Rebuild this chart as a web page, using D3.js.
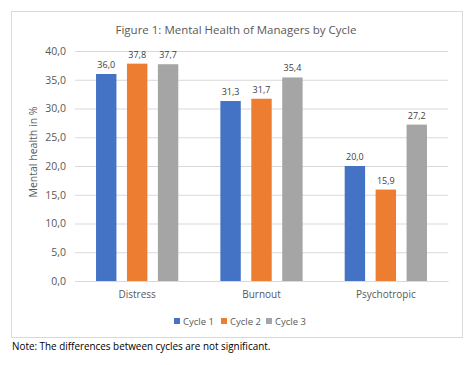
<!DOCTYPE html>
<html><head><meta charset="utf-8">
<script src="https://cdn.jsdelivr.net/npm/d3@7"></script>
<style>body{margin:0;background:#fff;} text{font-family:"Open Sans","Noto Sans",sans-serif;}</style>
</head><body>
<svg id="c" width="475" height="365"></svg>
<script>
const categories = ["Distress", "Burnout", "Psychotropic"];
const seriesNames = ["Cycle 1", "Cycle 2", "Cycle 3"];
const cycle1 = [36.0, 31.3, 20.0];
const cycle2 = [37.8, 31.7, 15.9];
const cycle3 = [37.7, 35.4, 27.2];
const yTicks = [0, 5, 10, 15, 20, 25, 30, 35, 40];
const colors = ["#4472C4", "#ED7D31", "#A5A5A5"];
const title = "Figure 1: Mental Health of Managers by Cycle";
const yTitle = "Mental health in %";
const note = "Note: The differences between cycles are not significant.";

const series = [cycle1, cycle2, cycle3];
const fmt = v => d3.format(".1f")(v).replace(".", ",");
const svg = d3.select("#c");
const FF = '"Open Sans","Noto Sans",sans-serif';

svg.append("rect").attr("x", 11.5).attr("y", 11.5).attr("width", 451).attr("height", 326)
  .attr("fill", "#fff").attr("stroke", "#D9D9D9");

const pLeft = 75, pRight = 448, pTop = 51, pBottom = 281;
const x = d3.scaleBand().domain(categories).range([pLeft, pRight]);
const xs = d3.scaleBand().domain(seriesNames).range([0, x.bandwidth()]).paddingInner(0.34).paddingOuter(0.68);
const y = d3.scaleLinear().domain([0, 40]).range([pBottom, pTop]);

svg.append("text").attr("x", 236).attr("y", 33.5).attr("text-anchor", "middle")
  .attr("font-size", 11.5).attr("fill", "#595959").text(title);

const yAxis = d3.axisLeft(y).tickValues(yTicks).tickFormat(fmt).tickSize(-(pRight - pLeft)).tickPadding(9);
const ga = svg.append("g").attr("transform", `translate(${pLeft},0)`).call(yAxis);
ga.select(".domain").remove();
ga.selectAll(".tick line").attr("stroke", "#D9D9D9");
ga.selectAll(".tick text").attr("fill", "#595959").attr("font-size", 10.5).attr("font-family", FF);

const xAxis = d3.axisBottom(x).tickSize(0).tickPadding(10);
const gx = svg.append("g").attr("transform", `translate(0,${pBottom})`).call(xAxis);
gx.select(".domain").attr("stroke", "#D9D9D9");
gx.selectAll(".tick text").attr("fill", "#595959").attr("font-size", 10).attr("font-family", FF);

svg.append("text").attr("transform", `translate(37,152) rotate(-90)`).attr("text-anchor", "middle")
  .attr("font-size", 10.5).attr("fill", "#595959").text(yTitle);

seriesNames.forEach((s, i) => {
  const g = svg.append("g");
  g.selectAll("rect").data(series[i]).join("rect")
    .attr("x", (d, j) => x(categories[j]) + xs(s))
    .attr("width", xs.bandwidth())
    .attr("y", d => y(d)).attr("height", d => pBottom - y(d))
    .attr("fill", colors[i]);
  g.selectAll("text").data(series[i]).join("text")
    .attr("x", (d, j) => x(categories[j]) + xs(s) + xs.bandwidth() / 2)
    .attr("y", d => y(d) - 6).attr("text-anchor", "middle")
    .attr("font-size", 9).attr("fill", "#404040").text(d => fmt(d));
});

const legX = [174, 221, 266];
seriesNames.forEach((s, i) => {
  svg.append("rect").attr("x", legX[i]).attr("y", 318).attr("width", 6).attr("height", 6).attr("fill", colors[i]);
  svg.append("text").attr("x", legX[i] + 9).attr("y", 324.5).attr("font-size", 9.5).attr("fill", "#595959").text(s);
});

svg.append("text").attr("x", 12).attr("y", 349.5).attr("font-size", 9.9).attr("fill", "#000").text(note);
</script>
</body></html>
